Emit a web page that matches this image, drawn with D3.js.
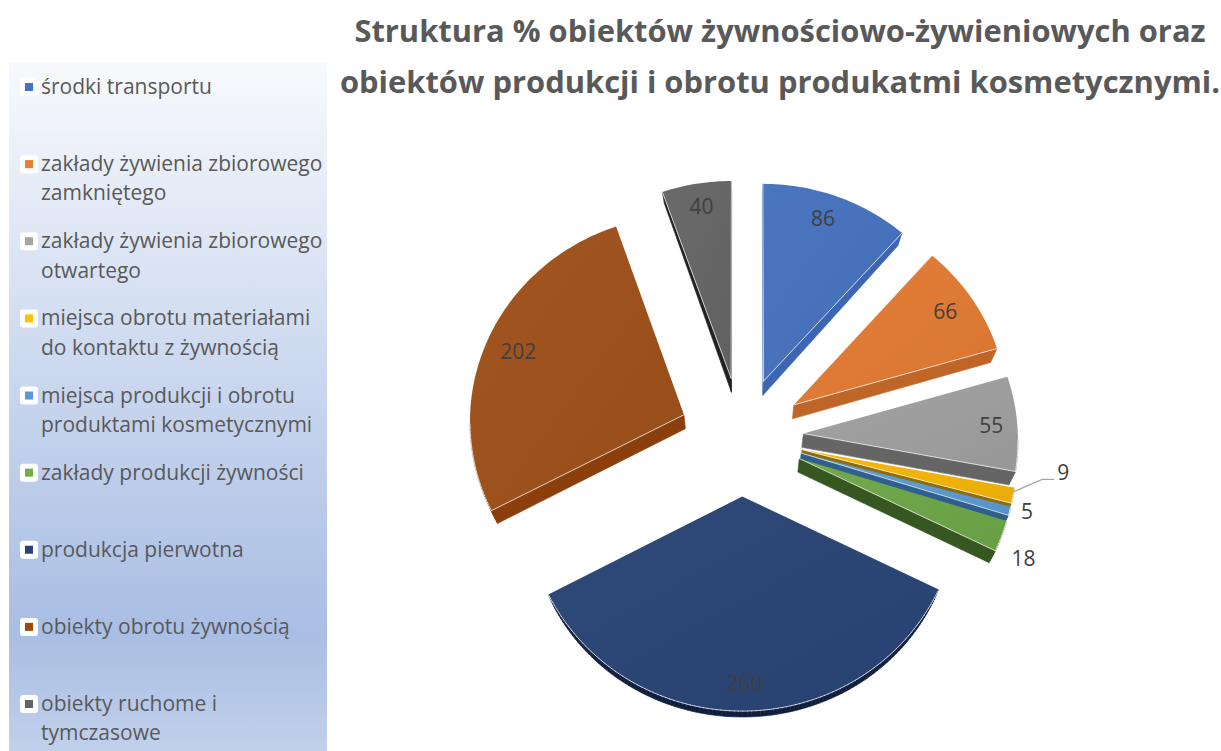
<!DOCTYPE html>
<html><head><meta charset="utf-8">
<script src="https://cdnjs.cloudflare.com/ajax/libs/d3/7.8.5/d3.min.js"></script>
<style>html,body{margin:0;background:#fff}svg{display:block}</style></head>
<body><svg id="c" width="1221" height="751"></svg>
<script>
const titleLines = ["Struktura % obiektów żywnościowo-żywieniowych oraz","obiektów produkcji i obrotu produkatmi kosmetycznymi."];
const categories = ["środki transportu","zakłady żywienia zbiorowego zamkniętego","zakłady żywienia zbiorowego otwartego","miejsca obrotu materiałami do kontaktu z żywnością","miejsca produkcji i obrotu produktami kosmetycznymi","zakłady produkcji żywności","produkcja pierwotna","obiekty obrotu żywnością","obiekty ruchome i tymczasowe"];
const legendLines = [["środki transportu"],["zakłady żywienia zbiorowego","zamkniętego"],["zakłady żywienia zbiorowego","otwartego"],["miejsca obrotu materiałami","do kontaktu z żywnością"],["miejsca produkcji i obrotu","produktami kosmetycznymi"],["zakłady produkcji żywności"],["produkcja pierwotna"],["obiekty obrotu żywnością"],["obiekty ruchome i","tymczasowe"]];
const values = [86,66,55,9,5,18,260,202,40];
const faceColors = ["#4571bd","#e27a32","#9f9f9f","#f4b506","#5b9bd5","#6da647","#284375","#9e5019","#656565"];
const wallColors = ["#3c66b3","#bf6528","#656565","#8f6b0a","#2f5f8f","#375720","#0e1e3c","#8a3f0c","#222222"];
const legendColors = ["#4472c4","#ed7d31","#a5a5a5","#ffc000","#5b9bd5","#70ad47","#264478","#9e480e","#636363"];
const labelRadius = [175,179,188,262,233,245,186,178,176];
const labelTurn = [-1,0,0,-8,-2,2,0,0,0];

const svg = d3.select("#c");
const FONT = "'Open Sans',sans-serif";
const defs = svg.append("defs");
const lg = defs.append("linearGradient").attr("id","lg").attr("x1",0).attr("y1",0).attr("x2",0).attr("y2",1);
[[0,"#f8fafd"],[0.5,"#c6d4ed"],[0.83,"#a9bee4"],[1,"#c1d0ea"]].forEach(s=>lg.append("stop").attr("offset",s[0]).attr("stop-color",s[1]));
const sh = defs.append("linearGradient").attr("id","sh").attr("x1",0).attr("y1",0).attr("x2",1).attr("y2",1);
sh.append("stop").attr("offset",0).attr("stop-color","#fff").attr("stop-opacity",0.03);
sh.append("stop").attr("offset",1).attr("stop-color","#000").attr("stop-opacity",0.05);

// legend
svg.append("rect").attr("x",9).attr("y",62).attr("width",318).attr("height",689).attr("fill","url(#lg)");
const rowY = d3.scaleLinear().domain([0,8]).range([87,704]);
const lrows = svg.append("g").selectAll("g").data(categories).join("g").attr("transform",(d,i)=>`translate(0,${rowY(i)})`);
lrows.append("rect").attr("x",20).attr("y",-9).attr("width",18).attr("height",18).attr("rx",3).attr("fill","#fff");
lrows.append("rect").attr("x",25).attr("y",-4).attr("width",8).attr("height",8).attr("fill",(d,i)=>legendColors[i]);
lrows.each(function(d,i){
  d3.select(this).selectAll("text").data(legendLines[i]).join("text")
    .attr("x",41).attr("y",(t,j)=>7+j*29.3)
    .attr("font-family",FONT).attr("font-size",21).attr("fill","#595959").text(t=>t);
});

// title
svg.append("g").selectAll("text").data(titleLines).join("text")
  .attr("x",780).attr("y",(d,i)=>42+i*51).attr("text-anchor","middle")
  .attr("font-family",FONT).attr("font-weight",700).attr("font-size",30.9).attr("fill","#595959").text(d=>d);

// pie
const CX=741.5, CY=436.5, R=214.5, TILT=0.96, PERSP=0.00013, EXPLODE=62, DEPTH=14;
const project = (x,y)=>{const v=y*TILT, s=1+PERSP*v; return [CX+x*s, CY+v*s];};
const under = p=>{const y=p[1]-CY, x=p[0]-CX; const q=(y+60)/440; return [p[0]-x*0.025, p[1]+DEPTH*(1-q*q)];};
const polar = (a,r,ox=0,oy=0)=>[ox+r*Math.sin(a), oy-r*Math.cos(a)];
const arcs = d3.pie().sort(null).value(d=>d)(values);
const lineGen = d3.line();
const gPie = svg.append("g");
const labelData = [];
arcs.forEach((a,i)=>{
  const mid=(a.startAngle+a.endAngle)/2;
  const [ox,oy]=polar(mid,EXPLODE);
  const steps=Math.max(4,Math.ceil((a.endAngle-a.startAngle)/0.02));
  const angle=d3.scaleLinear().domain([0,steps]).range([a.startAngle,a.endAngle]);
  const ground=[[ox,oy],...d3.range(steps+1).map(k=>polar(angle(k),R,ox,oy))];
  const top=ground.map(p=>project(p[0],p[1]));
  const closed=[...top,top[0]];
  const g=gPie.append("g");
  const edges=[];
  for(let k=0;k<closed.length-1;k++){ if(closed[k+1][0]-closed[k][0]<0) edges.push([closed[k],closed[k+1]]); }
  g.selectAll(".w").data(edges).join("path").attr("class","w")
    .attr("d",e=>lineGen([e[0],e[1],under(e[1]),under(e[0])])+"Z")
    .attr("fill",wallColors[i]).attr("stroke",wallColors[i]).attr("stroke-width",0.6);
  g.append("path").attr("d",lineGen(top)+"Z").attr("fill",faceColors[i]);
  g.append("path").attr("d",lineGen(top)+"Z").attr("fill","url(#sh)");
  g.selectAll(".h").data(edges).join("path").attr("class","h")
    .attr("d",e=>lineGen(e)).attr("fill","none").attr("stroke","#fff").attr("stroke-opacity",0.7).attr("stroke-width",1).attr("stroke-linecap","round");
  const apex=project(ox,oy);
  const la=mid+labelTurn[i]*Math.PI/180;
  labelData.push({v:values[i],x:apex[0]+labelRadius[i]*Math.sin(la),y:apex[1]-labelRadius[i]*Math.cos(la)});
});
// leader for the value 9
const l9=labelData[3];
svg.append("path").attr("d",lineGen([[l9.x-51,l9.y+21],[l9.x-21,l9.y+8],[l9.x-9,l9.y+8]])).attr("fill","none").attr("stroke","#a6a6a6").attr("stroke-width",1.3);
svg.append("g").selectAll("text").data(labelData).join("text")
  .attr("x",d=>d.x).attr("y",d=>d.y+9).attr("text-anchor","middle")
  .attr("font-family",FONT).attr("font-size",21).attr("fill","#404040").text(d=>d.v);
</script></body></html>
